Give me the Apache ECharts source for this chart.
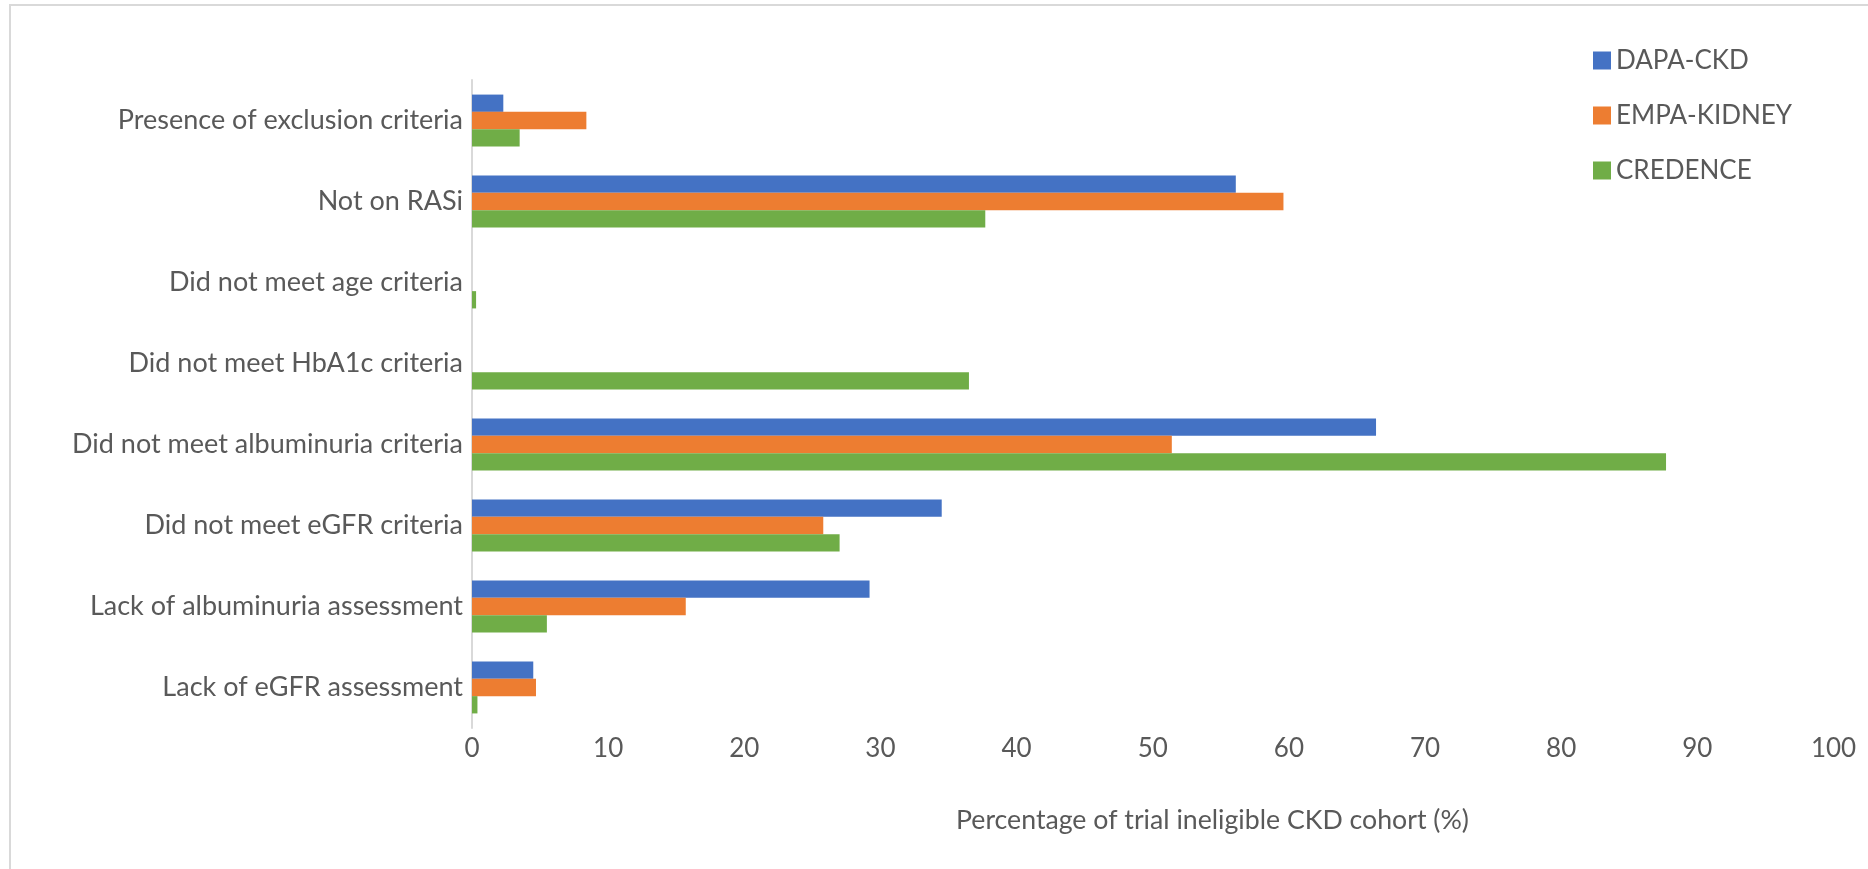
<!DOCTYPE html>
<html>
<head>
<meta charset="utf-8">
<script src="https://cdn.jsdelivr.net/npm/echarts@6/dist/echarts.min.js"></script>
<style>
html,body{margin:0;padding:0;background:#fff;}
#chart{width:1868px;height:869px;}
</style>
</head>
<body>
<div id="chart"></div>
<script>
const categories = [
  "Presence of exclusion criteria",
  "Not on RASi",
  "Did not meet age criteria",
  "Did not meet HbA1c criteria",
  "Did not meet albuminuria criteria",
  "Did not meet eGFR criteria",
  "Lack of albuminuria assessment",
  "Lack of eGFR assessment"
];
const dapaCkd    = [2.3, 56.1, 0,   0,    66.4, 34.5, 29.2, 4.5];
const empaKidney = [8.4, 59.6, 0,   0,    51.4, 25.8, 15.7, 4.7];
const credence   = [3.5, 37.7, 0.3, 36.5, 87.7, 27.0,  5.5, 0.4];
const seriesNames = ["DAPA-CKD", "EMPA-KIDNEY", "CREDENCE"];
const xTicks = { min: 0, max: 100, interval: 10 };
const axisTitle = "Percentage of trial ineligible CKD cohort (%)";

const colors = ["#4472C4", "#ED7D31", "#70AD47"];
const txt = "#595959";
const font = "Lato";

const chart = echarts.init(document.getElementById('chart'), null, {renderer: 'canvas'});
const seriesData = [dapaCkd, empaKidney, credence];
chart.setOption({
  animation: false,
  backgroundColor: '#ffffff',
  color: colors,
  textStyle: { fontFamily: font, color: txt },
  graphic: [{
    type: 'rect',
    shape: { x: 10, y: 5, width: 1900, height: 900 },
    style: { fill: 'none', stroke: '#d9d9d9', lineWidth: 2 },
    silent: true
  }],
  title: {
    text: axisTitle,
    left: 951,
    top: 802,
    textStyle: { fontFamily: font, fontSize: 26.7, fontWeight: 'normal', color: txt }
  },
  legend: {
    orient: 'vertical',
    left: 1588,
    top: 42,
    data: seriesNames,
    itemWidth: 18,
    itemHeight: 18,
    itemGap: 28,
    icon: 'rect',
    textStyle: { fontFamily: font, fontSize: 26, color: txt, lineHeight: 27, padding: [0, 0, 0, 0] }
  },
  grid: { left: 472, right: 34.5, top: 80, bottom: 141, containLabel: false },
  xAxis: {
    type: 'value',
    min: xTicks.min, max: xTicks.max, interval: xTicks.interval,
    axisLine: { show: false },
    axisTick: { show: false },
    splitLine: { show: false },
    axisLabel: { fontFamily: font, fontSize: 26, color: txt, margin: 8 }
  },
  yAxis: {
    type: 'category',
    inverse: true,
    data: categories,
    axisLine: { show: true, lineStyle: { color: '#d9d9d9', width: 2 } },
    axisTick: { show: false },
    axisLabel: { fontFamily: font, fontSize: 27, color: txt, margin: 9 }
  },
  series: seriesNames.map((n, i) => ({
    name: n,
    type: 'bar',
    data: seriesData[i],
    barGap: '0%',
    barCategoryGap: '36%',
    itemStyle: { color: colors[i] }
  }))
});
</script>
</body>
</html>
